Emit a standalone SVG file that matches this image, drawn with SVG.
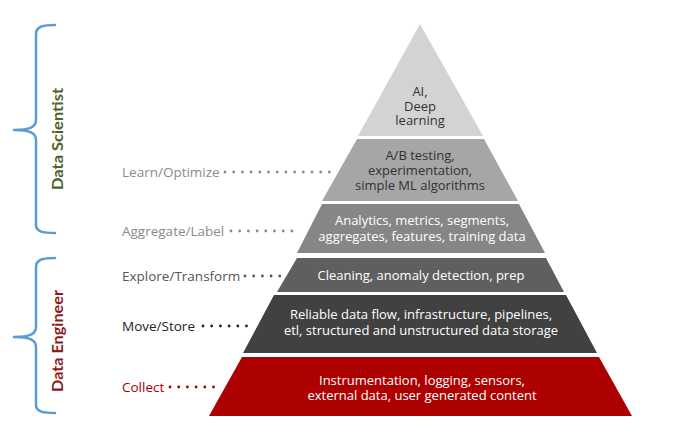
<svg xmlns="http://www.w3.org/2000/svg" width="675" height="442" viewBox="0 0 675 442">
<style>
.t{font-family:"Open Sans","Noto Sans",sans-serif;font-size:13px;text-anchor:middle}
.w{fill:#ffffff}
.d{fill:#333333}
.lab{font-family:"Open Sans","Noto Sans",sans-serif;font-size:13.5px}
.dots{stroke-width:2.8;stroke-linecap:round;stroke-dasharray:0 8.7;fill:none}
.brace{fill:none;stroke:#5b9bd5;stroke-width:2.5;stroke-linecap:round;stroke-linejoin:round}
.role{font-family:Lato,"Open Sans",sans-serif;font-size:16px;font-weight:bold;text-anchor:middle}
</style>
<rect width="675" height="442" fill="#ffffff"/>
<g id="brace-scientist">
<path class="brace" d="M55,25 C44,25 36,26 36,34 L36,120 C36,127 30,130 14,130 C30,130 36,133 36,140 L36,225 C36,232 44,233 55,233"/>
<text class="role" fill="#4f6228" transform="translate(63,139) rotate(-90)" textLength="102" lengthAdjust="spacingAndGlyphs">Data Scientist</text>
</g>
<g id="brace-engineer">
<path class="brace" d="M55,258 C44,258 36,259 36,267 L36,327 C36,334 30,337 14,337 C30,337 36,340 36,347 L36,405 C36,412 44,413 55,413"/>
<text class="role" fill="#8c1a1a" transform="translate(63,341) rotate(-90)" textLength="102" lengthAdjust="spacingAndGlyphs">Data Engineer</text>
</g>
<g id="level-ai">
<polygon points="420,24 483,136 358,136" fill="#d3d3d3"/>
<text class="t d" x="420" y="96">AI,</text>
<text class="t d" x="420" y="110.5">Deep</text>
<text class="t d" x="420" y="125">learning</text>
</g>
<g id="level-learn">
<polygon points="357,139 484,139 518,201 322,201" fill="#a6a6a6"/>
<text class="t d" x="420" y="159.5">A/B testing,</text>
<text class="t d" x="420" y="174.5">experimentation,</text>
<text class="t d" x="420" y="189.5">simple ML algorithms</text>
</g>
<g id="level-aggregate">
<polygon points="322,204 519,204 545,253 297,253" fill="#868686"/>
<text class="t w" x="422" y="225">Analytics, metrics, segments,</text>
<text class="t w" x="422" y="241">aggregates, features, training data</text>
</g>
<g id="level-explore">
<polygon points="297,258 546,258 564,292 277,292" fill="#5f5f5f"/>
<text class="t w" x="421" y="280">Cleaning, anomaly detection, prep</text>
</g>
<g id="level-move">
<polygon points="274,295 566,295 597,353 243,353" fill="#414141"/>
<text class="t w" x="421" y="319">Reliable data flow, infrastructure, pipelines,</text>
<text class="t w" x="421" y="335">etl, structured and unstructured data storage</text>
</g>
<g id="level-collect">
<polygon points="242,357 599,357 632,416 209,416" fill="#ad0000"/>
<text class="t w" x="422" y="385">Instrumentation, logging, sensors,</text>
<text class="t w" x="422" y="400">external data, user generated content</text>
</g>
<g id="labels">
<text class="lab" fill="#8a8a8a" x="122" y="177">Learn/Optimize</text>
<text class="lab" fill="#8a8a8a" x="122" y="236">Aggregate/Label</text>
<text class="lab" fill="#555555" x="122" y="281">Explore/Transform</text>
<text class="lab" fill="#222222" x="122" y="331">Move/Store</text>
<text class="lab" fill="#a00000" x="122" y="392">Collect</text>
</g>
<g id="connectors">
<line class="dots" stroke="#8a8a8a" x1="225" y1="172" x2="330" y2="172"/>
<line class="dots" stroke="#8a8a8a" x1="231" y1="231" x2="300" y2="231"/>
<line class="dots" stroke="#555555" x1="245" y1="276" x2="280" y2="276"/>
<line class="dots" stroke="#222222" x1="203" y1="326" x2="253" y2="326"/>
<line class="dots" stroke="#a00000" x1="170" y1="387" x2="219" y2="387"/>
</g>
</svg>
